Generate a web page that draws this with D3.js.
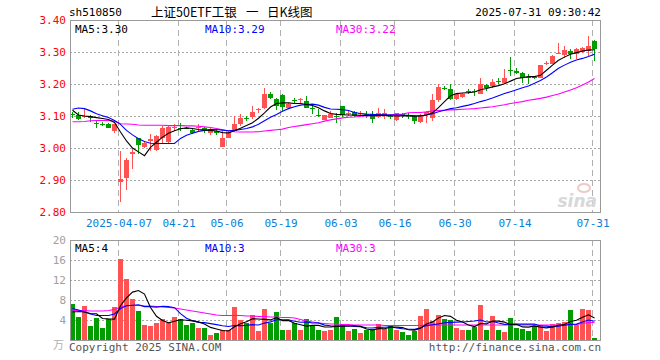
<!DOCTYPE html>
<html><head><meta charset="utf-8">
<script src="https://cdn.jsdelivr.net/npm/d3@7"></script>
<style>body{margin:0;background:#fff}svg{display:block}</style>
</head><body>
<svg id="c" width="660" height="360"></svg>
<script>
const dates = ["2025-03-25","2025-03-26","2025-03-27","2025-03-28","2025-03-31",
"2025-04-01","2025-04-02","2025-04-03","2025-04-07","2025-04-08","2025-04-09","2025-04-10","2025-04-11",
"2025-04-14","2025-04-15","2025-04-16","2025-04-17","2025-04-18","2025-04-21","2025-04-22","2025-04-23","2025-04-24","2025-04-25",
"2025-04-28","2025-04-29","2025-04-30","2025-05-06","2025-05-07","2025-05-08","2025-05-09","2025-05-12","2025-05-13","2025-05-14","2025-05-15","2025-05-16",
"2025-05-19","2025-05-20","2025-05-21","2025-05-22","2025-05-23","2025-05-26","2025-05-27","2025-05-28","2025-05-29","2025-05-30",
"2025-06-03","2025-06-04","2025-06-05","2025-06-06","2025-06-09","2025-06-10","2025-06-11","2025-06-12","2025-06-13",
"2025-06-16","2025-06-17","2025-06-18","2025-06-19","2025-06-20","2025-06-23","2025-06-24","2025-06-25","2025-06-26","2025-06-27",
"2025-06-30","2025-07-01","2025-07-02","2025-07-03","2025-07-04","2025-07-07","2025-07-08","2025-07-09","2025-07-10","2025-07-11",
"2025-07-14","2025-07-15","2025-07-16","2025-07-17","2025-07-18","2025-07-21","2025-07-22","2025-07-23","2025-07-24","2025-07-25",
"2025-07-28","2025-07-29","2025-07-30","2025-07-31"];

const open = [3.106,3.102,3.096,3.101,3.078,3.075,3.074,3.053,2.893,2.905,
2.982,3.031,3.004,3.022,2.995,3.032,3.020,3.064,3.063,3.064,
3.056,3.064,3.064,3.046,3.053,3.004,3.032,3.053,3.076,3.094,
3.097,3.120,3.126,3.170,3.154,3.166,3.126,3.150,3.150,3.147,
3.124,3.104,3.089,3.095,3.101,3.131,3.106,3.113,3.106,3.107,
3.107,3.097,3.103,3.101,3.086,3.105,3.103,3.100,3.081,3.103,
3.095,3.149,3.187,3.183,3.152,3.159,3.179,3.179,3.168,3.197,
3.194,3.210,3.204,3.244,3.241,3.235,3.221,3.223,3.220,3.265,
3.264,3.297,3.291,3.303,3.295,3.301,3.303,3.334];
const high = [3.112,3.112,3.124,3.103,3.086,3.082,3.077,3.076,2.991,2.970,
2.996,3.032,3.022,3.043,3.041,3.068,3.069,3.074,3.079,3.066,
3.058,3.074,3.066,3.064,3.064,3.053,3.052,3.100,3.107,3.100,
3.131,3.126,3.189,3.176,3.157,3.168,3.141,3.157,3.157,3.163,
3.136,3.121,3.104,3.116,3.110,3.132,3.116,3.116,3.116,3.116,
3.116,3.126,3.121,3.107,3.110,3.110,3.110,3.103,3.107,3.116,
3.168,3.199,3.194,3.199,3.170,3.173,3.183,3.183,3.220,3.199,
3.215,3.220,3.246,3.284,3.251,3.238,3.230,3.225,3.259,3.272,
3.291,3.329,3.319,3.308,3.314,3.316,3.350,3.336];
const low = [3.094,3.087,3.094,3.082,3.064,3.068,3.062,3.046,2.830,2.870,
2.933,2.980,3.000,2.991,2.991,3.014,3.017,3.053,3.053,3.058,
3.045,3.053,3.046,3.041,3.041,3.004,3.030,3.052,3.069,3.084,
3.090,3.110,3.121,3.152,3.118,3.116,3.121,3.139,3.142,3.125,
3.107,3.097,3.088,3.093,3.077,3.097,3.100,3.097,3.097,3.095,
3.079,3.095,3.090,3.090,3.083,3.094,3.090,3.074,3.079,3.079,
3.084,3.145,3.180,3.149,3.149,3.157,3.168,3.162,3.168,3.178,
3.189,3.199,3.199,3.225,3.230,3.204,3.201,3.215,3.218,3.259,
3.261,3.293,3.280,3.277,3.277,3.298,3.288,3.272];
const close = [3.103,3.090,3.101,3.093,3.077,3.074,3.064,3.074,2.904,2.961,
2.986,3.008,3.017,3.029,3.036,3.064,3.066,3.067,3.061,3.062,
3.047,3.066,3.053,3.058,3.047,3.032,3.050,3.076,3.093,3.092,
3.114,3.122,3.170,3.157,3.131,3.128,3.136,3.148,3.152,3.126,
3.122,3.102,3.102,3.107,3.099,3.103,3.108,3.100,3.108,3.099,
3.090,3.110,3.110,3.099,3.108,3.104,3.101,3.084,3.103,3.113,
3.149,3.192,3.186,3.152,3.168,3.170,3.178,3.177,3.199,3.189,
3.207,3.209,3.220,3.242,3.233,3.220,3.220,3.221,3.258,3.266,
3.288,3.298,3.305,3.293,3.308,3.311,3.319,3.308];

const ma5 = [3.118,3.103,3.100,3.098,3.095,3.092,3.089,3.080,3.050,3.022,
3.000,2.988,2.976,3.002,3.018,3.034,3.046,3.054,3.060,3.063,
3.061,3.058,3.056,3.055,3.053,3.048,3.047,3.054,3.062,3.070,
3.079,3.093,3.110,3.128,3.139,3.141,3.141,3.139,3.139,3.136,
3.133,3.126,3.116,3.108,3.105,3.104,3.103,3.103,3.102,3.102,
3.101,3.102,3.102,3.101,3.100,3.101,3.100,3.099,3.100,3.103,
3.110,3.126,3.145,3.163,3.170,3.172,3.173,3.175,3.182,3.186,
3.191,3.195,3.201,3.209,3.217,3.220,3.223,3.223,3.227,3.243,
3.259,3.274,3.284,3.293,3.298,3.303,3.306,3.307];
const ma10 = [3.121,3.125,3.123,3.116,3.107,3.101,3.095,3.086,3.074,3.055,
3.041,3.029,3.020,3.015,3.014,3.014,3.014,3.014,3.030,3.040,
3.046,3.052,3.055,3.058,3.058,3.056,3.054,3.055,3.058,3.061,
3.066,3.074,3.085,3.096,3.105,3.115,3.123,3.129,3.134,3.136,
3.137,3.134,3.127,3.122,3.121,3.120,3.117,3.111,3.108,3.106,
3.105,3.104,3.104,3.103,3.103,3.102,3.102,3.101,3.101,3.103,
3.107,3.113,3.118,3.123,3.126,3.130,3.134,3.139,3.145,3.150,
3.156,3.163,3.170,3.176,3.182,3.188,3.194,3.202,3.211,3.222,
3.235,3.249,3.259,3.268,3.275,3.280,3.286,3.293];
const ma30 = [3.082,3.082,3.083,3.085,3.086,3.086,3.086,3.084,3.076,3.075,
3.074,3.072,3.071,3.071,3.071,3.071,3.070,3.070,3.070,3.069,
3.069,3.068,3.066,3.064,3.061,3.057,3.053,3.051,3.050,3.050,
3.050,3.051,3.053,3.055,3.057,3.059,3.064,3.067,3.070,3.073,
3.076,3.079,3.084,3.088,3.091,3.094,3.096,3.097,3.099,3.100,
3.101,3.102,3.103,3.104,3.105,3.106,3.110,3.111,3.111,3.113,
3.116,3.117,3.118,3.119,3.120,3.121,3.122,3.123,3.125,3.127,
3.129,3.132,3.135,3.139,3.142,3.145,3.149,3.152,3.155,3.159,
3.164,3.169,3.175,3.181,3.188,3.197,3.206,3.217];

const volume = [7.3,4.7,6.9,2.9,4.5,2.5,4.3,6.7,16.3,12.3,
8.3,5.9,3.1,2.9,3.5,4.2,3.5,4.7,4.3,3.1,
3.5,2.5,2.5,1.0,1.5,2.0,2.0,6.7,4.0,3.5,
5.0,1.8,6.3,3.5,5.7,2.1,2.0,3.5,2.0,4.3,
2.8,2.0,1.9,2.1,4.7,3.2,1.9,2.3,1.5,2.1,
2.2,3.3,2.2,3.1,2.1,1.7,1.1,1.9,4.9,6.3,
3.9,5.1,4.3,4.0,2.5,2.1,2.1,2.7,7.1,2.1,
4.9,2.1,1.7,4.5,2.5,2.3,1.9,2.9,3.1,1.9,
3.3,3.5,3.7,6.1,3.1,6.3,6.0,0.5];
const vma5 = [5.6,5.7,5.6,5.3,5.26,4.3,4.22,4.18,6.86,8.42,
9.58,9.9,9.18,6.5,4.74,3.92,3.44,3.76,4.04,3.96,
3.82,3.62,3.18,2.52,2.2,1.9,1.8,2.64,3.24,3.64,
4.24,4.2,4.12,4.02,4.46,3.88,3.92,3.36,3.06,2.78,
2.92,2.92,2.6,2.62,2.7,2.78,2.76,2.84,2.72,2.2,
2.0,2.28,2.26,2.58,2.58,2.48,2.04,1.98,2.34,3.18,
3.62,4.42,4.9,4.72,3.96,3.6,3.0,2.68,3.3,3.22,
3.78,3.78,3.58,3.06,3.14,2.62,2.58,2.82,2.54,2.42,
2.62,2.94,3.1,3.7,3.94,4.54,5.04,4.4];
const vma10 = [6.3,6.0,5.6,5.2,4.9,4.9,4.9,5.2,6.3,6.84,
6.94,7.06,6.68,6.68,6.58,6.75,6.67,6.47,5.27,4.35,
3.87,3.53,3.47,3.28,3.08,2.86,2.71,2.91,2.88,2.92,
3.07,3.0,3.38,3.63,4.05,4.06,4.06,3.74,3.54,3.62,
3.4,3.42,2.98,2.84,2.74,2.85,2.84,2.72,2.67,2.45,
2.39,2.52,2.55,2.65,2.39,2.24,2.16,2.12,2.46,2.88,
3.05,3.23,3.44,3.53,3.57,3.61,3.71,3.79,4.01,3.59,
3.69,3.39,3.13,3.18,3.18,3.2,3.18,3.2,2.8,2.78,
2.62,2.76,2.96,3.12,3.18,3.58,3.99,3.75];
const vma30 = [5.9,5.9,5.9,5.8,5.8,5.8,5.9,6.1,6.6,6.9,
6.9,6.9,6.8,6.8,6.7,6.6,6.5,6.4,6.2,6.0,
5.8,5.6,5.4,5.2,5.0,4.9,4.9,4.9,4.9,4.8,
4.8,4.7,4.7,4.6,4.6,4.5,4.5,4.4,4.1,3.8,
3.6,3.4,3.3,3.2,3.2,3.1,3.1,3.0,3.0,3.0,
3.0,3.0,2.9,2.9,2.9,2.9,2.9,2.9,2.9,3.0,
3.0,3.0,3.0,3.0,3.0,3.0,3.0,3.0,3.0,3.0,
3.0,3.0,3.0,3.0,3.0,3.0,3.0,3.0,3.0,3.0,
3.0,3.0,3.0,3.1,3.1,3.3,3.5,3.5];

const priceTicks = [3.40,3.30,3.20,3.10,3.00,2.90,2.80];
const volTicks = [20,16,12,8,4];
const dateTicks = ["2025-04-07","2025-04-21","2025-05-06","2025-05-19","2025-06-03","2025-06-16","2025-06-30","2025-07-14","2025-07-31"];
const dateTickLabels = ["2025-04-07","04-21","05-06","05-19","06-03","06-16","06-30","07-14","07-31"];
const priceLegend = ["MA5:3.30","MA10:3.29","MA30:3.22"];
const volLegend = ["MA5:4","MA10:3","MA30:3"];
const titleParts = ["上证50ETF工银","一","日K线图"];

const RED = "#ff5252", GREEN = "#009c00";
const MONO = "'DejaVu Sans Mono', monospace";
const CJK = "'Noto Sans CJK SC', sans-serif";
const svg = d3.select("#c");
const L = 70, R = 600, PT = 20, PB = 212, VT = 240, VB = 340;

const x = d3.scaleBand().domain(dates).range([L, L + dates.length * 6]).paddingInner(0).paddingOuter(0);
const yP = d3.scaleLinear().domain([2.8, 3.4]).range([PB, PT]);
const yV = d3.scaleLinear().domain([0, 20]).range([VB, VT]);

const data = dates.map((d, i) => ({d, o: open[i], h: high[i], l: low[i], c: close[i], v: volume[i]}));

// gridlines
function grid(top, bottom, ys, yScale) {
  const g = svg.append("g").attr("shape-rendering", "crispEdges");
  g.selectAll("line.h").data(ys).join("line")
    .attr("x1", L).attr("x2", R)
    .attr("y1", t => Math.round(yScale(t)) + 0.5).attr("y2", t => Math.round(yScale(t)) + 0.5)
    .attr("stroke", "#a8a8a8").attr("stroke-dasharray", "2,2");
  g.selectAll("line.v").data(dateTicks).join("line")
    .attr("x1", d => x(d) + 0.5).attr("x2", d => x(d) + 0.5)
    .attr("y1", top).attr("y2", bottom)
    .attr("stroke", "#b0b0b0").attr("stroke-dasharray", "6,4");
}
grid(PT, PB, priceTicks.filter(t => t < 3.39 && t > 2.81), yP);
grid(VT, VB, volTicks.filter(t => t < 20), yV);

// watermark
svg.append("text").attr("x", 597).attr("y", 207).attr("text-anchor", "end")
  .attr("font-family", "'DejaVu Sans', sans-serif").attr("font-style", "italic").attr("font-weight", "bold")
  .attr("font-size", 17).attr("fill", "#d8d8d8").text("sina");
svg.append("ellipse").attr("cx", 584).attr("cy", 188).attr("rx", 6).attr("ry", 4)
  .attr("fill", "none").attr("stroke", "#f0c8c8").attr("stroke-width", 2);

// candles
const cg = svg.append("g").attr("shape-rendering", "crispEdges");
cg.selectAll("line").data(data).join("line")
  .attr("x1", d => x(d.d) + 2.5).attr("x2", d => x(d.d) + 2.5)
  .attr("y1", d => yP(d.h)).attr("y2", d => yP(d.l))
  .attr("stroke", d => d.c >= d.o ? RED : GREEN);
cg.selectAll("rect").data(data).join("rect")
  .attr("x", d => x(d.d)).attr("width", 5)
  .attr("y", d => yP(Math.max(d.o, d.c)))
  .attr("height", d => Math.max(1, Math.abs(yP(d.o) - yP(d.c))))
  .attr("fill", d => d.c >= d.o ? RED : GREEN);

// volume bars
const vg = svg.append("g").attr("shape-rendering", "crispEdges");
vg.selectAll("rect").data(data).join("rect")
  .attr("x", d => x(d.d)).attr("width", 5)
  .attr("y", d => yV(d.v)).attr("height", d => VB - yV(d.v))
  .attr("fill", d => d.c >= d.o ? RED : GREEN);

// MA lines
function maLine(arr, yScale, color) {
  const line = d3.line().x((v, i) => x(dates[i]) + 2.5).y(v => yScale(v));
  svg.append("path").datum(arr).attr("d", line).attr("fill", "none")
    .attr("stroke", color).attr("stroke-width", 1.1);
}
maLine(ma30, yP, "#ff00ff");
maLine(ma10, yP, "#0000ff");
maLine(ma5, yP, "#000000");
maLine(vma30, yV, "#ff00ff");
maLine(vma10, yV, "#0000ff");
maLine(vma5, yV, "#000000");

// frames
const fg = svg.append("g").attr("shape-rendering", "crispEdges");
fg.append("rect").attr("x", L + 0.5).attr("y", PT + 0.5).attr("width", R - L).attr("height", PB - PT)
  .attr("fill", "none").attr("stroke", "#9a9a9a");
fg.append("rect").attr("x", L + 0.5).attr("y", VT + 0.5).attr("width", R - L).attr("height", VB - VT)
  .attr("fill", "none").attr("stroke", "#9a9a9a");

// axis labels
const pAxis = d3.axisLeft(yP).tickValues(priceTicks).tickSize(0).tickPadding(4).tickFormat(d3.format(".2f"));
const pa = svg.append("g").attr("transform", `translate(${L},0)`).call(pAxis);
pa.select(".domain").remove();
pa.selectAll("text").attr("fill", "#ff0000").attr("font-family", MONO).attr("font-size", 11);

const vAxis = d3.axisLeft(yV).tickValues(volTicks).tickSize(0).tickPadding(4).tickFormat(d3.format("d"));
const va = svg.append("g").attr("transform", `translate(${L},0)`).call(vAxis);
va.select(".domain").remove();
va.selectAll("text").attr("fill", "#a0a0a0").attr("font-family", MONO).attr("font-size", 11);

const xAxis = d3.axisBottom(x).tickValues(dateTicks).tickSize(0).tickPadding(7)
  .tickFormat((d) => dateTickLabels[dateTicks.indexOf(d)]);
const xa = svg.append("g").attr("transform", `translate(-2,${PB})`).call(xAxis);
xa.select(".domain").remove();
xa.selectAll("text").attr("fill", "#0a7fd8").attr("font-family", MONO).attr("font-size", 11);

// legends
const legColors = ["#000000", "#0000ff", "#ff00ff"];
const legX = [75, 205, 336];
priceLegend.forEach((t, i) => svg.append("text").attr("x", legX[i]).attr("y", 33)
  .attr("font-family", MONO).attr("font-size", 11).attr("fill", legColors[i]).text(t));
volLegend.forEach((t, i) => svg.append("text").attr("x", legX[i]).attr("y", 252)
  .attr("font-family", MONO).attr("font-size", 11).attr("fill", legColors[i]).text(t));

// header
svg.append("text").attr("x", 69).attr("y", 16).attr("font-family", MONO).attr("font-size", 11)
  .attr("fill", "#000").text("sh510850");
const titleX = [151, 246, 267];
titleParts.forEach((t, i) => svg.append("text").attr("x", titleX[i]).attr("y", 17)
  .attr("font-family", CJK).attr("font-size", 12.5).attr("fill", "#000").text(t));
svg.append("text").attr("x", 601).attr("y", 16).attr("text-anchor", "end").attr("font-family", MONO)
  .attr("font-size", 11).attr("fill", "#000").text("2025-07-31 09:30:42");

// footer
svg.append("text").attr("x", 69).attr("y", 351).attr("font-family", MONO).attr("font-size", 11)
  .attr("fill", "#555").text("Copyright 2025 SINA.COM");
svg.append("text").attr("x", 601).attr("y", 351).attr("text-anchor", "end").attr("font-family", MONO)
  .attr("font-size", 11).attr("fill", "#555").text("http://finance.sina.com.cn");
svg.append("text").attr("x", 64).attr("y", 349).attr("text-anchor", "end").attr("font-family", CJK)
  .attr("font-size", 11).attr("fill", "#b0b0b0").text("万");
</script>
</body></html>
